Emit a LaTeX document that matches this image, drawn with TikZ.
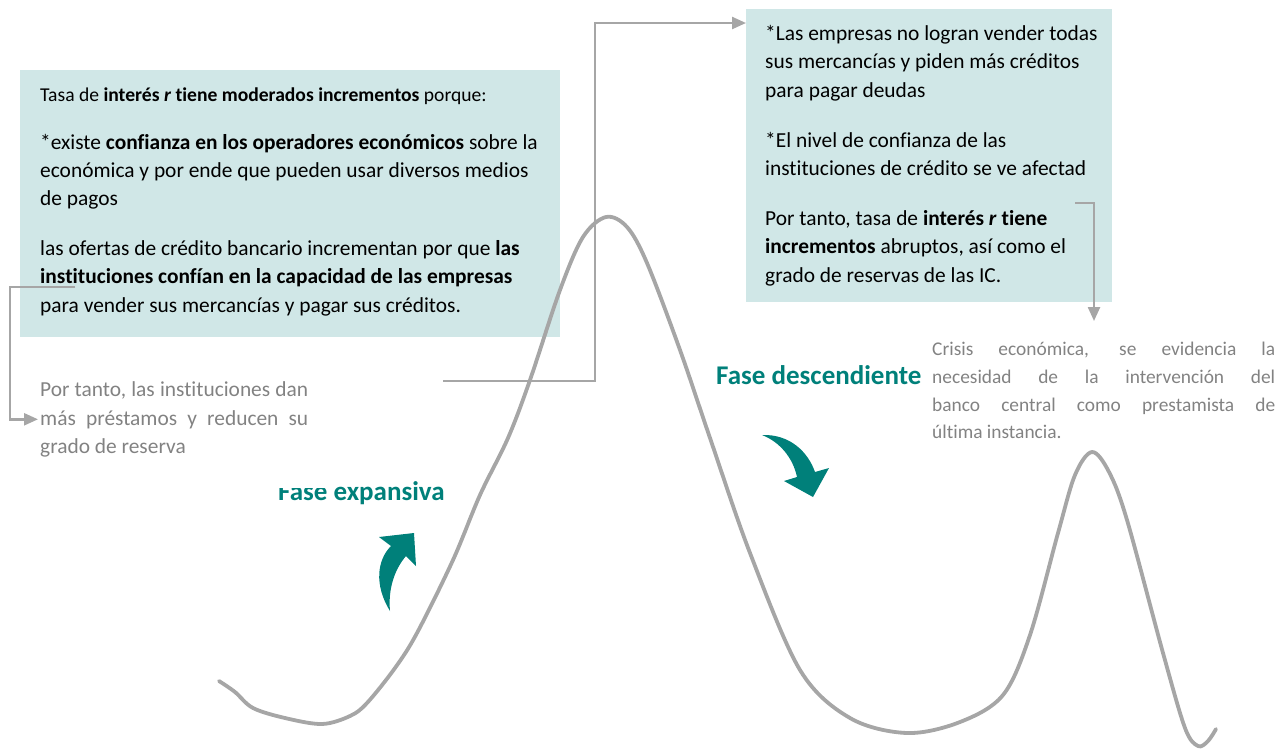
\documentclass[tikz,border=0pt]{standalone}
\usepackage{fontspec}
\setmainfont{Carlito}[Ligatures={NoCommon}]
\usetikzlibrary{arrows.meta}
\definecolor{boxfill}{RGB}{208,231,231}
\definecolor{tealc}{RGB}{0,128,122}
\definecolor{linegray}{RGB}{166,166,166}
\definecolor{txtgray}{RGB}{130,130,130}
\newcommand\mkline[4]{\node[bodyline] (#1) at (#2,#3) {#4};}
\newcommand\mkgray[4]{\node[grayline] (#1) at (#2,#3) {#4};}
\begin{document}
\begin{tikzpicture}[x=1pt,y=-1pt,
  panel/.style={fill=boxfill, draw=none, anchor=north west, inner sep=0pt},
  bodyline/.style={anchor=base west, inner sep=0pt, font=\fontsize{21.4}{24}\selectfont, text=black},
  grayline/.style={anchor=base west, inner sep=0pt, font=\fontsize{19.4}{24}\selectfont, text=txtgray},
  phase/.style={anchor=base west, inner sep=0pt, font=\fontsize{27}{30}\selectfont\bfseries, text=tealc},
  conn/.style={draw=linegray, line width=2.4pt, -{Triangle[length=14pt,width=12pt]}},
  wave/.style={draw=linegray, line width=3.8pt, line cap=round, line join=round}]
\useasboundingbox (0,0) rectangle (1282,748);

% boxes
\node[panel, minimum width=540pt, minimum height=267pt] (box1) at (20,70) {};
\node[panel, minimum width=366pt, minimum height=293pt] (box2) at (746,9) {};

% wave
\draw[wave] plot[smooth, tension=0.55] coordinates {
 (219,681) (235,692) (253,708) (285,718) (322,724) (350,716) (367,703)
 (395,668) (417,633) (453,560) (480,495) (508,438) (530,380) (560,290)
 (583,237) (606,217) (627,227) (647,263) (680,350) (710,438) (750,553)
 (800,670) (850,718) (907,733) (960,722) (1003,695) (1030,635) (1058,533)
 (1075,475) (1092,452) (1109,472) (1127,520) (1163,653) (1185,728)
 (1198,746) (1208,741) (1216,729)};

% box 1 text
\mkline{a1}{40}{101}{\fontsize{19.6}{24}\selectfont Tasa de \textbf{interés \textit{r} tiene moderados incrementos} porque:}
\mkline{a2}{40}{149}{*existe \textbf{confianza en los operadores económicos} sobre la}
\mkline{a3}{40}{177}{económica y por ende que pueden usar diversos medios}
\mkline{a4}{40}{205}{de pagos}
\mkline{a5}{40}{255}{las ofertas de crédito bancario incrementan por que \textbf{las}}
\mkline{a6}{40}{283}{\textbf{instituciones confían en la capacidad de las empresas}}
\mkline{a7}{40}{312}{para vender sus mercancías y pagar sus créditos.}

% box 2 text
\mkline{b1}{765}{40}{*Las empresas no logran vender todas}
\mkline{b2}{765}{68}{sus mercancías y piden más créditos}
\mkline{b3}{765}{97}{para pagar deudas}
\mkline{b4}{765}{147}{*El nivel de confianza de las}
\mkline{b5}{765}{175}{instituciones de crédito se ve afectad}
\mkline{b6}{765}{225}{Por tanto, tasa de \textbf{interés \textit{r} tiene}}
\mkline{b7}{765}{253}{\textbf{incrementos} abruptos, así como el}
\mkline{b8}{765}{282}{grado de reservas de las IC.}

% gray texts
\mkgray{g1}{40}{396}{\fontsize{21.4}{24}\selectfont\makebox[268pt][s]{Por tanto, las instituciones dan}}
\mkgray{g2}{40}{425}{\fontsize{21.4}{24}\selectfont\makebox[268pt][s]{más préstamos y reducen su}}
\mkgray{g3}{40}{453}{\fontsize{21.4}{24}\selectfont grado de reserva}

\mkgray{k1}{932}{355}{\makebox[343pt][s]{Crisis económica, se evidencia la}}
\mkgray{k2}{932}{383}{\makebox[343pt][s]{necesidad de la intervención del}}
\mkgray{k3}{932}{411}{\makebox[343pt][s]{banco central como prestamista de}}
\mkgray{k4}{932}{438}{última instancia.}

% phase labels
\node[phase] (fexp) at (278,500) {Fase expansiva};
\fill[white] (270,466) rectangle (336,488);
\node[phase] (fdes) at (716,384) {Fase descendiente};

% teal curved arrows
\fill[tealc] (390,611) .. controls (374,585) and (377,560) .. (391,546)
  -- (379,537) -- (414,533) -- (416,566) -- (406,556)
  .. controls (394,570) and (388,590) .. (390,611) -- cycle;
\fill[tealc] (762,435) .. controls (790,434) and (808,452) .. (815,472)
  -- (829,468) -- (813,497) -- (784,481) -- (797,477)
  .. controls (793,458) and (780,442) .. (762,435) -- cycle;

% connectors
\coordinate (c1s) at (75,287);
\coordinate (c1k) at (10,287);
\draw[conn] (c1s) -- (c1k) |- ([xshift=-2pt]g2.west);

\coordinate (c2s) at (443,381);
\coordinate (c2k) at (595,23);
\draw[conn] (c2s) -| (c2k) -- (c2k -| box2.west);

\coordinate (c3s) at (1075,203);
\coordinate (c3e) at (1094,321);
\draw[conn] (c3s) -| (c3e);
\end{tikzpicture}
\end{document}
